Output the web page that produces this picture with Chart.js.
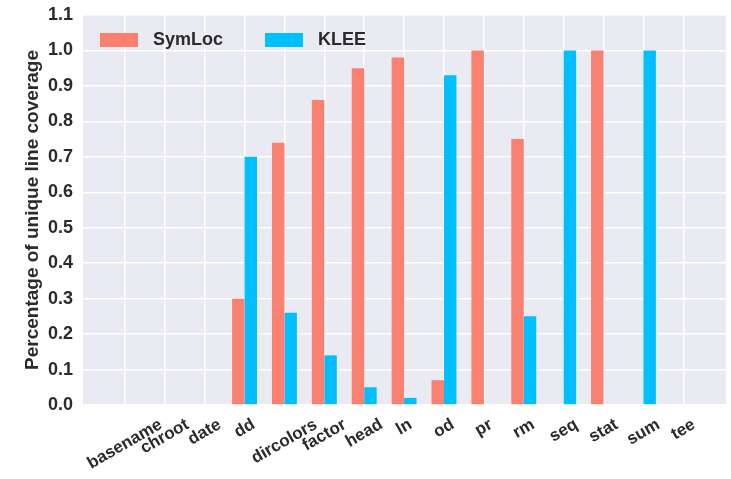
<!DOCTYPE html>
<html>
<head>
<meta charset="utf-8">
<script src="https://cdn.jsdelivr.net/npm/chart.js@4.4.0/dist/chart.umd.min.js"></script>
<style>
  html, body { margin: 0; padding: 0; background: #fff; }
  canvas { display: block; }
</style>
</head>
<body>
<canvas id="myChart" width="731" height="479"></canvas>
<script>
// chart data
const categories = ['basename', 'chroot', 'date', 'dd', 'dircolors', 'factor', 'head', 'ln', 'od', 'pr', 'rm', 'seq', 'stat', 'sum', 'tee'];
const symlocValues = [0, 0, 0, 0.30, 0.74, 0.86, 0.95, 0.98, 0.07, 1.0, 0.75, 0, 1.0, 0, 0];
const kleeValues = [0, 0, 0, 0.70, 0.26, 0.14, 0.05, 0.02, 0.93, 0, 0.25, 1.0, 0, 1.0, 0];
const yTicks = [0, 0.1, 0.2, 0.3, 0.4, 0.5, 0.6, 0.7, 0.8, 0.9, 1.0, 1.1];

const FONT = '"Liberation Sans", Arial, Helvetica, sans-serif';
const TEXT = '#2b2b2b';

// plot background (seaborn style)
const plotBg = {
  id: 'plotBg',
  beforeDraw(chart) {
    const { ctx, chartArea: a } = chart;
    ctx.save();
    ctx.fillStyle = '#EAEAF2';
    ctx.fillRect(a.left, a.top, a.right - a.left, a.bottom - a.top);
    ctx.restore();
  }
};

// x labels rotated 30deg, centred on the tick like matplotlib
const xLabels = {
  id: 'xLabels',
  afterDraw(chart) {
    const { ctx, chartArea } = chart;
    const xs = chart.scales.x;
    const rot = 30 * Math.PI / 180;
    ctx.save();
    ctx.font = 'bold 17px ' + FONT;
    ctx.fillStyle = TEXT;
    ctx.textAlign = 'center';
    ctx.textBaseline = 'middle';
    categories.forEach((name, i) => {
      const x = xs.getPixelForValue(i);
      const w = ctx.measureText(name).width;
      const h = 17;
      const boxH = w * Math.sin(rot) + h * Math.cos(rot);
      const cy = chartArea.bottom + 11 + boxH / 2;
      ctx.save();
      ctx.translate(x, cy);
      ctx.rotate(-rot);
      ctx.fillText(name, 0, 0);
      ctx.restore();
    });
    ctx.restore();
  }
};

// legend inside the plot, top-left
const innerLegend = {
  id: 'innerLegend',
  afterDraw(chart) {
    const { ctx, chartArea: a } = chart;
    ctx.save();
    ctx.font = 'bold 18px ' + FONT;
    ctx.textBaseline = 'middle';
    ctx.textAlign = 'left';
    const starts = [a.left + 17, a.left + 182];
    chart.data.datasets.forEach((ds, i) => {
      const bx = starts[i], by = a.top + 18;
      ctx.fillStyle = ds.backgroundColor;
      ctx.fillRect(bx, by, 38, 14);
      ctx.fillStyle = TEXT;
      ctx.fillText(ds.label, bx + 53, by + 7);
    });
    ctx.restore();
  }
};

const ctx = document.getElementById('myChart').getContext('2d');
const myChart = new Chart(ctx, {
  type: 'bar',
  data: {
    datasets: [
      {
        label: 'SymLoc',
        data: symlocValues.map((v, i) => ({ x: i, y: v })),
        backgroundColor: '#FA8072',
        borderWidth: 0,
        barPercentage: 1.0,
        categoryPercentage: 0.625
      },
      {
        label: 'KLEE',
        data: kleeValues.map((v, i) => ({ x: i, y: v })),
        backgroundColor: '#00BFFF',
        borderWidth: 0,
        barPercentage: 1.0,
        categoryPercentage: 0.625
      }
    ]
  },
  options: {
    responsive: false,
    animation: false,
    devicePixelRatio: 1,
    layout: { padding: { top: 15, right: 5, left: 0, bottom: 0 } },
    plugins: {
      legend: { display: false },
      tooltip: { enabled: false }
    },
    scales: {
      x: {
        type: 'linear',
        offset: false,
        min: -1.05,
        max: 15.07,
        afterBuildTicks: (scale) => { scale.ticks = categories.map((_, i) => ({ value: i })); },
        afterFit: (scale) => { scale.height = 74; scale.paddingLeft = 0; scale.paddingRight = 0; },
        ticks: { display: false },
        grid: { color: '#ffffff', lineWidth: 1.5, drawTicks: false, offset: false },
        border: { display: false }
      },
      y: {
        min: 0,
        max: 1.1,
        afterBuildTicks: (scale) => { scale.ticks = yTicks.map(v => ({ value: v })); },
        afterFit: (scale) => { scale.width = 83; scale.paddingTop = 0; scale.paddingBottom = 0; },
        ticks: {
          padding: 10,
          color: TEXT,
          font: { family: FONT, size: 18, weight: 'bold' },
          callback: (v) => Number(v).toFixed(1)
        },
        grid: { color: '#ffffff', lineWidth: 1.5, drawTicks: false },
        border: { display: false },
        title: {
          display: true,
          text: 'Percentage of unique line coverage',
          color: TEXT,
          font: { family: FONT, size: 19, weight: 'bold' },
          padding: { top: 21, bottom: 0 }
        }
      }
    }
  },
  plugins: [plotBg, xLabels, innerLegend]
});
</script>
</body>
</html>
